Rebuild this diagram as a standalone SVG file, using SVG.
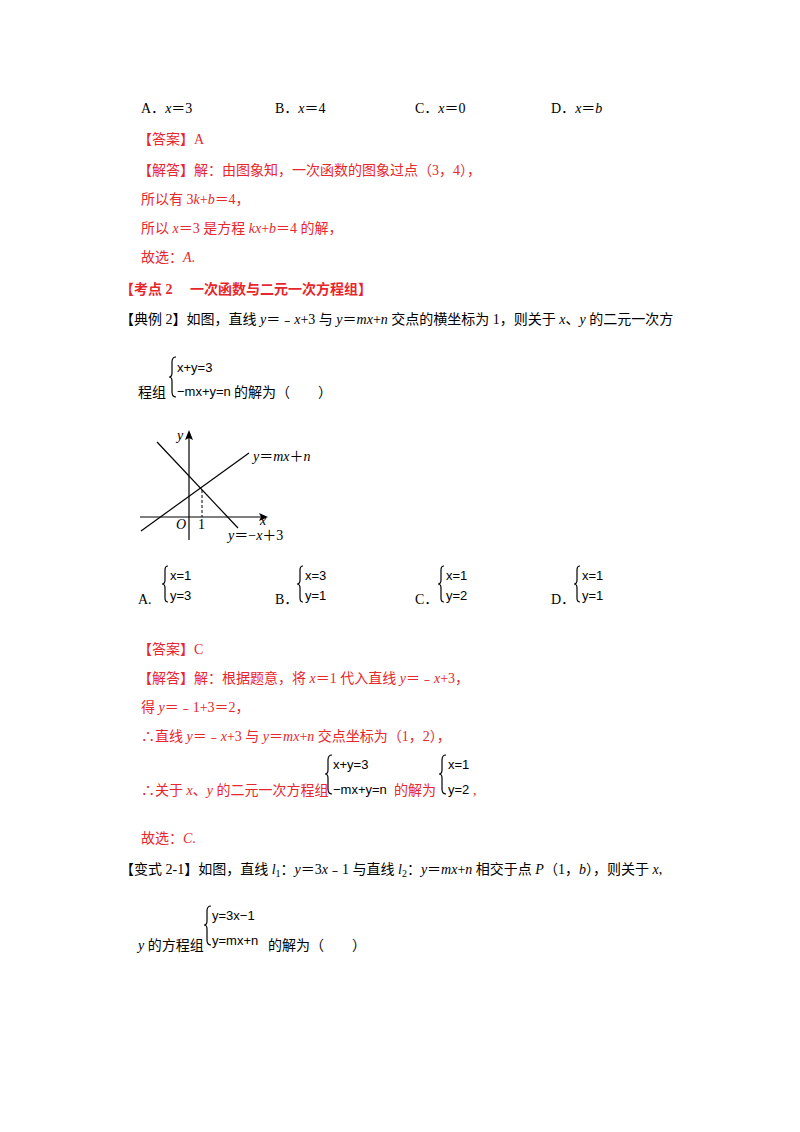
<svg xmlns="http://www.w3.org/2000/svg" width="800" height="1132" viewBox="0 0 800 1132">
<style>
text{font-family:"Liberation Serif","Noto Sans CJK SC",serif;font-size:14px;fill:#000}
.r{fill:#e8262d}
.b{font-weight:bold}
.eq{font-family:"Liberation Sans","Noto Sans CJK SC",sans-serif;font-size:13px}
.br{fill:none;stroke:#000;stroke-width:1.2}
.ax{stroke:#000;stroke-width:1.2;fill:none}
</style>
<rect width="800" height="1132" fill="#fff"/>
<text x="141" y="113">A．<tspan font-style="italic">x</tspan>＝3</text>
<text x="275" y="113">B．<tspan font-style="italic">x</tspan>＝4</text>
<text x="415" y="113">C．<tspan font-style="italic">x</tspan>＝0</text>
<text x="551" y="113">D．<tspan font-style="italic">x</tspan>＝<tspan font-style="italic">b</tspan></text>
<text x="138" y="144" class="r">【答案】A</text>
<text x="138" y="175" class="r">【解答】解：由图象知，一次函数的图象过点（3，4），</text>
<text x="141" y="204" class="r">所以有 3<tspan font-style="italic">k</tspan>+<tspan font-style="italic">b</tspan>＝4，</text>
<text x="141" y="233" class="r">所以 <tspan font-style="italic">x</tspan>＝3 是方程 <tspan font-style="italic">kx</tspan>+<tspan font-style="italic">b</tspan>＝4 的解，</text>
<text x="141" y="262" class="r">故选：<tspan font-style="italic">A</tspan>.</text>
<text x="120" y="294" class="r b">【考点 2　 一次函数与二元一次方程组】</text>
<text x="120" y="324">【典例 2】如图，直线 <tspan font-style="italic">y</tspan>＝﹣<tspan font-style="italic">x</tspan>+3 与 <tspan font-style="italic">y</tspan>＝<tspan font-style="italic">mx</tspan>+<tspan font-style="italic">n</tspan> 交点的横坐标为 1，则关于 <tspan font-style="italic">x</tspan>、<tspan font-style="italic">y</tspan> 的二元一次方</text>
<g id="sys1">
<path class="br" d="M176,357 Q172,357 172,362 L172,373 Q172,377 169,377 Q172,377 172,381 L172,392 Q172,397 176,397"/>
<text class="eq" x="177" y="372">x+y=3</text>
<text class="eq" x="177" y="396">−mx+y=n</text>
</g>
<text x="138" y="397">程组</text>
<text x="234" y="397">的解为（　　）</text>
<g id="graph">
<line class="ax" x1="140" y1="517" x2="264" y2="517"/>
<path d="M268,517 L259,513 L261,517 L259,521 Z"/>
<line class="ax" x1="189" y1="540" x2="189" y2="436"/>
<path d="M189,430 L185,440 L189,438 L193,440 Z"/>
<line class="ax" x1="157" y1="442" x2="238" y2="528"/>
<line class="ax" x1="141" y1="531" x2="249" y2="453"/>
<line x1="202" y1="490" x2="202" y2="517" stroke="#000" stroke-dasharray="3,2"/>
<text x="177" y="440" font-style="italic">y</text>
<text x="253" y="461"><tspan font-style="italic">y</tspan>＝<tspan font-style="italic">mx</tspan>＋<tspan font-style="italic">n</tspan></text>
<text x="176" y="529" font-style="italic">O</text>
<text x="198" y="529">1</text>
<text x="260" y="525" font-style="italic">x</text>
<text x="228" y="540"><tspan font-style="italic">y</tspan>＝−<tspan font-style="italic">x</tspan>＋3</text>
</g>
<g id="opts">
<text x="138" y="604">A.</text>
<path class="br" d="M168,566 Q165,566 165,570 L165,580 Q165,584 162,584 Q165,584 165,588 L165,598 Q165,602 168,602"/>
<text class="eq" x="170" y="580">x=1</text><text class="eq" x="170" y="600">y=3</text>
<text x="275" y="604">B．</text>
<path class="br" d="M303,566 Q300,566 300,570 L300,580 Q300,584 297,584 Q300,584 300,588 L300,598 Q300,602 303,602"/>
<text class="eq" x="305" y="580">x=3</text><text class="eq" x="305" y="600">y=1</text>
<text x="415" y="604">C．</text>
<path class="br" d="M444,566 Q441,566 441,570 L441,580 Q441,584 438,584 Q441,584 441,588 L441,598 Q441,602 444,602"/>
<text class="eq" x="446" y="580">x=1</text><text class="eq" x="446" y="600">y=2</text>
<text x="551" y="604">D．</text>
<path class="br" d="M580,566 Q577,566 577,570 L577,580 Q577,584 574,584 Q577,584 577,588 L577,598 Q577,602 580,602"/>
<text class="eq" x="582" y="580">x=1</text><text class="eq" x="582" y="600">y=1</text>
</g>
<text x="138" y="654" class="r">【答案】C</text>
<text x="138" y="683" class="r">【解答】解：根据题意，将 <tspan font-style="italic">x</tspan>＝1 代入直线 <tspan font-style="italic">y</tspan>＝﹣<tspan font-style="italic">x</tspan>+3，</text>
<text x="141" y="712" class="r">得 <tspan font-style="italic">y</tspan>＝﹣1+3＝2，</text>
<text x="141" y="741" class="r">∴直线 <tspan font-style="italic">y</tspan>＝﹣<tspan font-style="italic">x</tspan>+3 与 <tspan font-style="italic">y</tspan>＝<tspan font-style="italic">mx</tspan>+<tspan font-style="italic">n</tspan> 交点坐标为（1，2），</text>
<text x="141" y="795" class="r">∴关于 <tspan font-style="italic">x</tspan>、<tspan font-style="italic">y</tspan> 的二元一次方程组</text>
<g id="sys2">
<path class="br" d="M332,755 Q328,755 328,760 L328,770 Q328,774 325,774 Q328,774 328,778 L328,789 Q328,794 332,794"/>
<text class="eq" x="333" y="769">x+y=3</text>
<text class="eq" x="333" y="794">−mx+y=n</text>
</g>
<text x="394" y="795" class="r">的解为</text>
<g id="sys3">
<path class="br" d="M446,755 Q442,755 442,760 L442,770 Q442,774 439,774 Q442,774 442,778 L442,789 Q442,794 446,794"/>
<text class="eq" x="448" y="769">x=1</text>
<text class="eq" x="448" y="794">y=2</text>
</g>
<text x="473" y="795" class="r">,</text>
<text x="141" y="843" class="r">故选：<tspan font-style="italic">C</tspan>.</text>
<text x="120" y="874">【变式 2-1】如图，直线 <tspan font-style="italic">l</tspan><tspan font-size="10" dy="3">1</tspan><tspan dy="-3">：</tspan><tspan font-style="italic">y</tspan>＝3<tspan font-style="italic">x</tspan>﹣1 与直线 <tspan font-style="italic">l</tspan><tspan font-size="10" dy="3">2</tspan><tspan dy="-3">：</tspan><tspan font-style="italic">y</tspan>＝<tspan font-style="italic">mx</tspan>+<tspan font-style="italic">n</tspan> 相交于点 <tspan font-style="italic">P</tspan>（1，<tspan font-style="italic">b</tspan>），则关于 <tspan font-style="italic">x</tspan>,</text>
<g id="sys4">
<path class="br" d="M211,906 Q207,906 207,911 L207,921 Q207,925 204,925 Q207,925 207,929 L207,940 Q207,945 211,945"/>
<text class="eq" x="212" y="920">y=3x−1</text>
<text class="eq" x="212" y="945">y=mx+n</text>
</g>
<text x="138" y="950"><tspan font-style="italic">y</tspan> 的方程组</text>
<text x="268" y="950">的解为（　　）</text>
</svg>
